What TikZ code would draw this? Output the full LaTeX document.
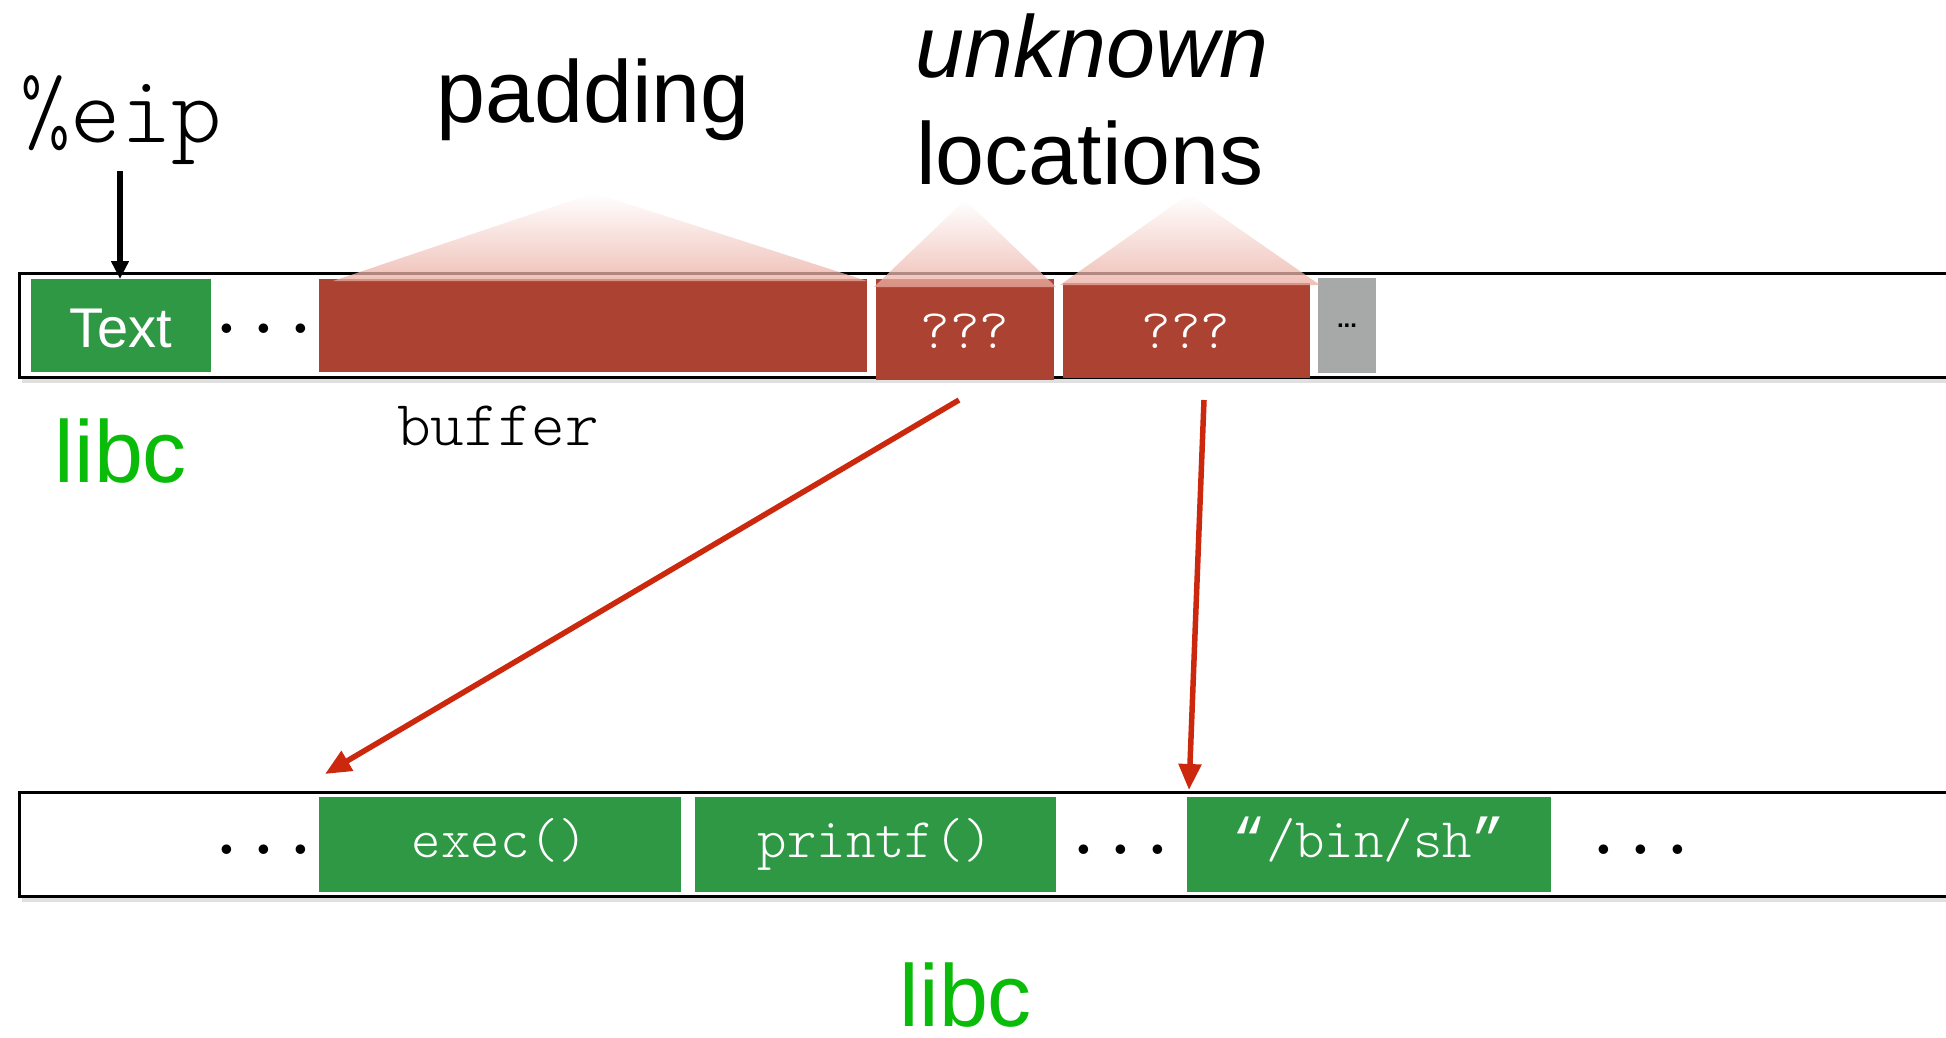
\documentclass[tikz,border=0pt]{standalone}
\usepackage{fontspec}
\setmainfont{Liberation Sans}
\setmonofont{Latin Modern Mono Light}
\newfontfamily\quotemono{Liberation Mono}
\usetikzlibrary{arrows.meta,calc}
\definecolor{gboxc}{RGB}{47,152,68}
\definecolor{rboxc}{RGB}{172,66,50}
\definecolor{tric}{RGB}{234,172,160}
\definecolor{grayboxc}{RGB}{166,169,167}
\definecolor{libcgreen}{RGB}{10,187,10}
\definecolor{arrowred}{RGB}{204,40,14}
\begin{document}
\begin{tikzpicture}[x=1pt,y=-1pt,
  cell/.style={inner sep=0pt, outer sep=0pt, text=white, minimum height=95pt},
  greencell/.style={cell, fill=gboxc},
  redcell/.style={cell, fill=rboxc},
  celltext/.style={inner sep=0pt, anchor=base, text=white, font=\fontsize{56}{56}\selectfont\ttfamily},
  bigtext/.style={inner sep=0pt, anchor=base, font=\fontsize{88}{88}\selectfont},
  dotstext/.style={inner sep=0pt, anchor=base, font=\fontsize{70}{70}\selectfont\ttfamily\bfseries},
  barline/.style={line width=3pt, black},
  shadowline/.style={line width=4pt, black!12},
  tri/.style={top color=white, bottom color=tric, fill opacity=0.75, draw=none},
  redarrow/.style={arrowred, line width=5.5pt, -{Triangle[length=26pt,width=22pt]}},
  blackarrow/.style={black, line width=5.5pt, -{Triangle[length=18pt,width=17pt]}}
]
\useasboundingbox (0,0) rectangle (1946,1037);

% ---- top bar ----
\draw[shadowline] (22,381) -- (1950,381);
\draw[barline] (1950,273) -- (19,273) -- (19,377) -- (1950,377);

\node[cell, fill=gboxc, minimum width=180pt, minimum height=93pt] (text) at (121,325.5) {};
\node[inner sep=0pt, anchor=base, text=white, font=\fontsize{56}{56}\selectfont] (textlbl) at (121,347) {Text};
\node[dotstext] (dots1) at (264,333) {...};
\node[redcell, minimum width=548pt, minimum height=93pt] (buffer) at (593,325.5) {};
\node[redcell, minimum width=178pt, minimum height=101pt] (q1) at (965,329.5) {};
\node[celltext] (q1t) at (965,348) {???};
\node[redcell, minimum width=247pt, minimum height=95pt] (q2) at (1186,330.5) {};
\node[celltext] (q2t) at (1186,348) {???};
\node[cell, fill=grayboxc, minimum width=58pt, minimum height=95pt, text=black, font=\fontsize{24}{24}\selectfont\bfseries] (gray) at (1347,325.5) {...};

% translucent triangles
\path[tri] (594,193) -- (867,281) -- (333,281) -- cycle;
\path[tri] (965,200) -- (1056,287) -- (874,287) -- cycle;
\path[tri] (1189,194) -- (1320,285) -- (1060,285) -- cycle;

% labels
\node[inner sep=0pt, anchor=base, font=\fontsize{96}{96}\selectfont\ttfamily] (eip) at (121,142) {\%eip};
\node[bigtext] (padding) at (593,122) {padding};
\node[bigtext, font=\fontsize{88}{88}\selectfont\itshape] (unknown) at (1092,77) {unknown};
\node[bigtext] (locations) at (1090,184) {locations};
\node[bigtext, text=libcgreen] (libctop) at (121,482) {libc};
\node[inner sep=0pt, anchor=base, font=\fontsize{64}{64}\selectfont\ttfamily] (bufferlbl) at (498,445) {buffer};

\draw[blackarrow] (120,171) -- (text.north -| 120,0);

% ---- bottom bar ----
\draw[shadowline] (22,900) -- (1950,900);
\draw[barline] (1950,792) -- (19,792) -- (19,896) -- (1950,896);
\node[dotstext] (dots2) at (264,854) {...};
\node[greencell, minimum width=362pt] (exec) at (500,844.5) {};
\node[celltext] (exect) at (500,857) {exec()};
\node[greencell, minimum width=361pt] (printf) at (875.5,844.5) {};
\node[celltext] (printft) at (875.5,857) {printf()};
\node[dotstext] (dots3) at (1121,854) {...};
\node[greencell, minimum width=364pt] (binsh) at (1369,844.5) {};
\node[celltext] (binsht) at (1369,857) {{\quotemono “}/bin/sh{\quotemono ”}};
\node[dotstext] (dots4) at (1641,854) {...};
\node[bigtext, text=libcgreen] (libcbot) at (966,1026) {libc};

% ---- red arrows ----
\coordinate (s1) at (959,400);
\coordinate (s2) at (1204,400);
\coordinate (e1) at (325,774);
\coordinate (e2) at (1189,790);
\draw[redarrow] (s1) -- (e1);
\draw[redarrow] (s2) -- (e2);
\end{tikzpicture}
\end{document}
